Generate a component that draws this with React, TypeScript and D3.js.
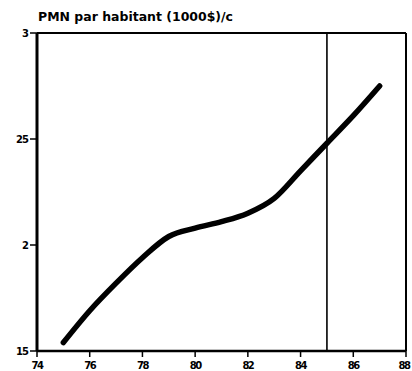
import React from "react";
import * as d3 from "d3";

const years = [75, 76, 77, 78, 79, 80, 81, 82, 83, 84, 85, 86, 87];
const pmn = [1.54, 1.69, 1.82, 1.94, 2.04, 2.08, 2.11, 2.15, 2.22, 2.35, 2.48, 2.61, 2.75];
const xTicks = [74, 76, 78, 80, 82, 84, 86, 88];
const yTicks = [1.5, 2, 2.5, 3];
const yTickLabels = ["15", "2", "25", "3"];
const markerYear = 85;
const title = "PMN par habitant (1000$)/c";

export default function App() {
  const W = 412, H = 371;
  const left = 37, right = 406, top = 33, bottom = 351;
  const x = d3.scaleLinear().domain([74, 88]).range([left, right]);
  const y = d3.scaleLinear().domain([1.5, 3]).range([bottom, top]);
  const line = d3
    .line<number>()
    .x((_, i) => x(years[i]))
    .y((d) => y(d))
    .curve(d3.curveMonotoneX);
  const font = "'DejaVu Sans', sans-serif";
  return (
    <svg
      width={W}
      height={H}
      style={{ position: "absolute", left: 0, top: 0, background: "#fff" }}
    >
      <rect x={0} y={0} width={W} height={H} fill="#fff" />
      {/* frame */}
      <line x1={left} x2={right} y1={top} y2={top} stroke="#000" strokeWidth={2} />
      <line x1={right} x2={right} y1={top} y2={bottom} stroke="#000" strokeWidth={2} />
      <line x1={left} x2={right} y1={bottom} y2={bottom} stroke="#000" strokeWidth={2.5} />
      <line x1={left} x2={left} y1={top} y2={bottom} stroke="#000" strokeWidth={3} />
      {/* marker line */}
      <line
        x1={x(markerYear)}
        x2={x(markerYear)}
        y1={top}
        y2={bottom}
        stroke="#000"
        strokeWidth={1.6}
      />
      {/* y ticks */}
      {yTicks.map((t, i) => (
        <g key={t}>
          <line x1={left - 7} x2={left} y1={y(t)} y2={y(t)} stroke="#000" strokeWidth={1.5} />
          <text
            x={left - 9}
            y={y(t)}
            dy="0.35em"
            textAnchor="end"
            fontFamily={font}
            fontWeight="bold"
            fontSize={10}
            letterSpacing={-1}
          >
            {yTickLabels[i]}
          </text>
        </g>
      ))}
      {/* x ticks */}
      {xTicks.map((t) => (
        <g key={t}>
          <line x1={x(t)} x2={x(t)} y1={bottom} y2={bottom + 6} stroke="#000" strokeWidth={1.5} />
          <text
            x={Math.min(x(t), W - 8)}
            y={bottom + 18}
            textAnchor="middle"
            fontFamily={font}
            fontWeight="bold"
            fontSize={10}
            letterSpacing={-1.5}
          >
            {t}
          </text>
        </g>
      ))}
      {/* title */}
      <text
        x={left + 1}
        y={21}
        fontFamily={font}
        fontWeight="bold"
        fontSize={12}
        textLength={195}
        lengthAdjust="spacingAndGlyphs"
      >
        {title}
      </text>
      {/* series */}
      <path
        d={line(pmn) || ""}
        fill="none"
        stroke="#000"
        strokeWidth={5.5}
        strokeLinecap="round"
        strokeLinejoin="round"
      />
    </svg>
  );
}
